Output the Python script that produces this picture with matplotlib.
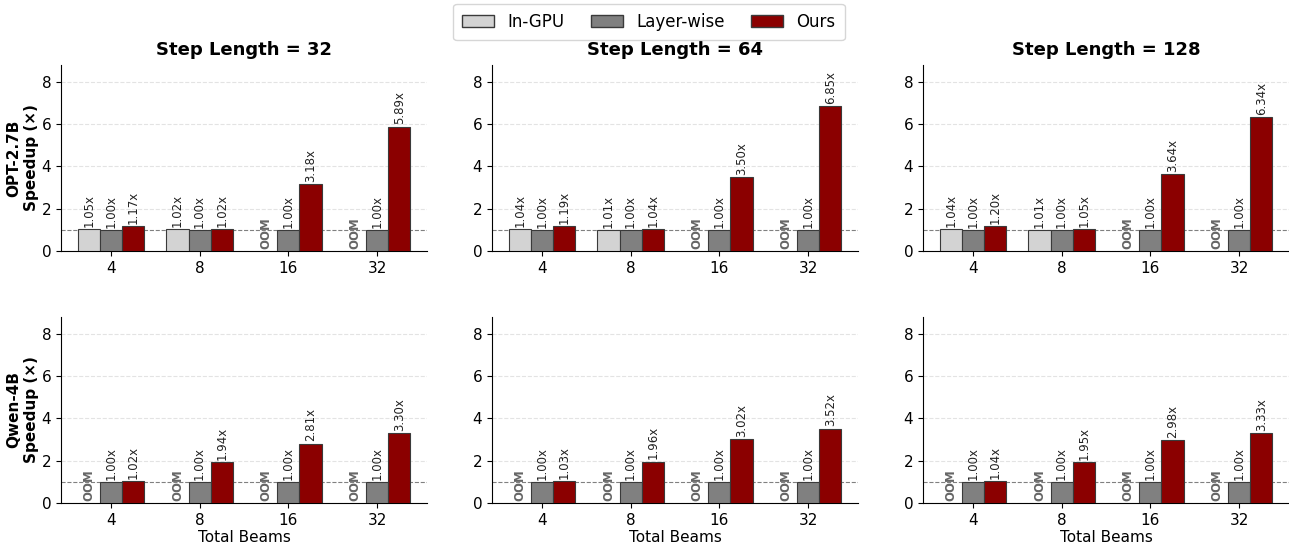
import numpy as np
import matplotlib.pyplot as plt
from matplotlib.patches import Patch

beams = ['4', '8', '16', '32']
step_lengths = [32, 64, 128]
models = ['OPT-2.7B', 'Qwen-4B']

# None = OOM
opt_ingpu = [[1.05, 1.02, None, None],
             [1.04, 1.01, None, None],
             [1.04, 1.01, None, None]]
opt_layer = [[1.00, 1.00, 1.00, 1.00],
             [1.00, 1.00, 1.00, 1.00],
             [1.00, 1.00, 1.00, 1.00]]
opt_ours = [[1.17, 1.02, 3.18, 5.89],
            [1.19, 1.04, 3.50, 6.85],
            [1.20, 1.05, 3.64, 6.34]]

qwen_ingpu = [[None, None, None, None],
              [None, None, None, None],
              [None, None, None, None]]
qwen_layer = [[1.00, 1.00, 1.00, 1.00],
              [1.00, 1.00, 1.00, 1.00],
              [1.00, 1.00, 1.00, 1.00]]
qwen_ours = [[1.02, 1.94, 2.81, 3.30],
             [1.03, 1.96, 3.02, 3.52],
             [1.04, 1.95, 2.98, 3.33]]

data = {
    'OPT-2.7B': (opt_ingpu, opt_layer, opt_ours),
    'Qwen-4B': (qwen_ingpu, qwen_layer, qwen_ours),
}

methods = ['In-GPU', 'Layer-wise', 'Ours']
colors = {'In-GPU': '#d3d3d3', 'Layer-wise': '#808080', 'Ours': '#8b0000'}

fig = plt.figure(figsize=(12.89, 5.46), dpi=100)

lefts = [61 / 1289, 492 / 1289, 923 / 1289]
width = 366 / 1289
bottoms = [1 - 251 / 546, 1 - 503 / 546]
height = 186 / 546

x = np.arange(len(beams))
bw = 0.25

for r, model in enumerate(models):
    for c, sl in enumerate(step_lengths):
        ax = fig.add_axes([lefts[c], bottoms[r], width, height])
        series = data[model]
        for k, m in enumerate(methods):
            vals = series[k][c]
            pos = x + (k - 1) * bw
            for xi, v in zip(pos, vals):
                if v is None:
                    ax.text(xi, 0.08, 'OOM', rotation=90, ha='center', va='bottom',
                            fontsize=8.5, fontweight='bold', color='#666666')
                    continue
                ax.bar(xi, v, bw, color=colors[m], edgecolor='#3a3a3a', linewidth=0.8, zorder=3)
                ax.text(xi, v + 0.1, f'{v:.2f}x', rotation=90, ha='center', va='bottom',
                        fontsize=8.5, color='#222222')
        ax.axhline(1.0, color='gray', linestyle='--', linewidth=0.8, zorder=2)
        ax.set_xlim(-0.5625, 3.5625)
        ax.set_ylim(0, 8.8)
        ax.set_xticks(x)
        ax.set_xticklabels(beams)
        ax.set_yticks([0, 2, 4, 6, 8])
        ax.tick_params(labelsize=11)
        ax.grid(axis='y', linestyle='--', alpha=0.35, zorder=0)
        ax.spines['top'].set_visible(False)
        ax.spines['right'].set_visible(False)
        if r == 0:
            ax.set_title(f'Step Length = {sl}', fontsize=13, fontweight='bold', pad=7)
        else:
            ax.set_xlabel('Total Beams', fontsize=11, labelpad=2)
        if c == 0:
            ax.set_ylabel(f'{model}\nSpeedup (×)', fontsize=11, fontweight='bold', labelpad=2)

handles = [Patch(facecolor=colors[m], edgecolor='#3a3a3a', label=m) for m in methods]
fig.legend(handles=handles, loc='upper center', ncol=3, fontsize=12,
           bbox_to_anchor=(0.5035, 1.008), frameon=True, columnspacing=1.6,
           handlelength=1.9, handletextpad=0.8, borderpad=0.55)

plt.savefig('out.png', dpi=100)
